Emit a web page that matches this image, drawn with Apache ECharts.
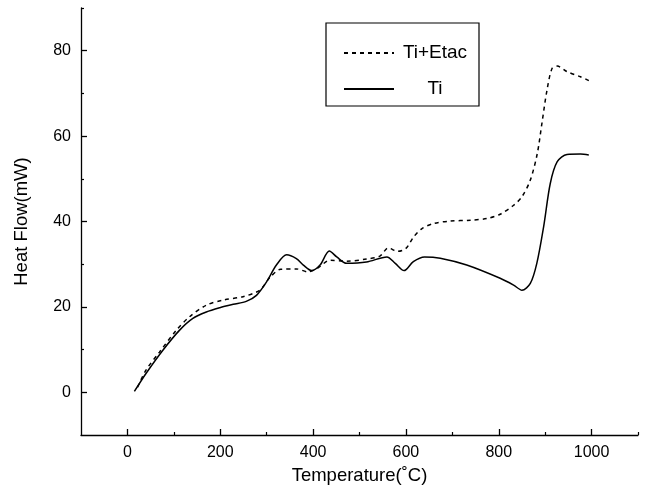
<!DOCTYPE html>
<html>
<head>
<meta charset="utf-8">
<script src="https://cdn.jsdelivr.net/npm/echarts@6/dist/echarts.min.js"></script>
<style>html,body{margin:0;padding:0;background:#fff;}#c{width:648px;height:496px;}</style>
</head>
<body>
<div id="c"></div>
<script>
// Temperature (°C), heat flow (mW) pairs
var tiEtac = [[22,1.2],[40,5.2],[69,9.4],[105,14.5],[134,17.7],[170,20.4],[206,21.6],[249,22.4],[285,23.9],[307,26.9],[330,28.8],[364,28.9],[389,28.2],[410,29.1],[436,30.9],[472,30.7],[515,31.2],[544,31.9],[562,33.8],[582,33.0],[600,33.7],[616,36.3],[634,38.3],[659,39.5],[695,40.1],[739,40.3],[775,40.7],[803,41.7],[832,43.8],[850,45.8],[868,49.7],[883,55.9],[893,63.0],[904,70.8],[915,75.9],[926,76.4],[947,75.1],[976,73.9],[994,73.0]];
var ti = [[15,0.2],[40,4.4],[76,9.8],[112,14.5],[141,17.3],[170,18.8],[199,19.8],[228,20.6],[256,21.3],[278,22.7],[300,25.9],[321,29.8],[343,32.2],[364,31.3],[379,29.8],[397,28.5],[415,29.8],[435,33.1],[451,31.7],[472,30.2],[515,30.5],[559,31.7],[577,30.2],[596,28.5],[616,30.6],[640,31.7],[674,31.4],[731,29.8],[803,26.7],[832,25.1],[850,23.9],[868,25.5],[882,30.2],[897,39.0],[911,48.9],[926,54.0],[947,55.7],[976,55.8],[994,55.6]];
var seriesNames = ['Ti+Etac', 'Ti'];
var xMajor = [0,200,400,600,800,1000];
var xMinor = [100,300,500,700,900,1100];
var yMajor = [0,20,40,60,80];
var yMinor = [10,30,50,70,90];

var chart = echarts.init(document.getElementById('c'), null, {renderer:'canvas'});
var font = 'Liberation Sans, Arial, sans-serif';
var lineCol = '#000';
function plain(v){ return String(v); }
function baseX(show){
  return {type:'value', min:-100, max:1100, position:'bottom',
    axisLine:{show:show, onZero:false, lineStyle:{color:lineCol, width:1.3}},
    splitLine:{show:false}};
}
function baseY(show){
  return {type:'value', min:-10, max:90, position:'left',
    axisLine:{show:show, onZero:false, lineStyle:{color:lineCol, width:1.3}},
    splitLine:{show:false}};
}
var x0 = baseX(true);
x0.name = 'Temperature(\u02DAC)'; x0.nameLocation='middle'; x0.nameGap=31;
x0.nameTextStyle = {fontFamily:font, fontSize:18.5, color:'#000'};
x0.axisTick = {show:true, inside:true, length:6, customValues:xMajor, lineStyle:{color:lineCol, width:1.3}};
x0.axisLabel = {show:true, margin:10, customValues:xMajor, formatter:plain, fontFamily:font, fontSize:16, color:'#000'};
var x1 = baseX(false);
x1.axisTick = {show:true, inside:true, length:3, customValues:xMinor, lineStyle:{color:lineCol, width:1.2}};
x1.axisLabel = {show:false};
var y0 = baseY(true);
y0.name = 'Heat Flow(mW)'; y0.nameLocation='middle'; y0.nameGap=50;
y0.nameTextStyle = {fontFamily:font, fontSize:18.5, color:'#000'};
y0.axisTick = {show:true, inside:true, length:6, customValues:yMajor, lineStyle:{color:lineCol, width:1.3}};
y0.axisLabel = {show:true, margin:10, customValues:yMajor, formatter:plain, fontFamily:font, fontSize:16, color:'#000'};
var y1 = baseY(false);
y1.axisTick = {show:true, inside:true, length:3, customValues:yMinor, lineStyle:{color:lineCol, width:1.2}};
y1.axisLabel = {show:false};

chart.setOption({
  animation:false,
  backgroundColor:'#fff',
  grid:{left:81, right:10, top:8, bottom:61, containLabel:false},
  xAxis:[x0, x1],
  yAxis:[y0, y1],
  legend:{
    orient:'vertical', left:326, top:23,
    borderColor:'#000', borderWidth:1.2, borderRadius:0,
    padding:[20, 8, 7, 17], itemGap:16, itemWidth:50, itemHeight:14,
    itemStyle:{opacity:0},
    data:seriesNames,
    formatter:function(n){ return '{a|' + n + '}'; },
    textStyle:{fontFamily:font, fontSize:19, color:'#000', lineHeight:20,
      rich:{a:{width:72, lineHeight:20, align:'center', fontFamily:font, fontSize:19, color:'#000'}}}
  },
  series:[
    {name:seriesNames[0], type:'line', data:tiEtac, symbol:'none', smooth:0.3,
     xAxisIndex:0, yAxisIndex:0,
     lineStyle:{color:'#000', width:1.5, type:[4,4]}, itemStyle:{color:'#000'}},
    {name:seriesNames[1], type:'line', data:ti, symbol:'none', smooth:0.3,
     xAxisIndex:0, yAxisIndex:0,
     lineStyle:{color:'#000', width:1.5, type:'solid'}, itemStyle:{color:'#000'}}
  ]
});
</script>
</body>
</html>
